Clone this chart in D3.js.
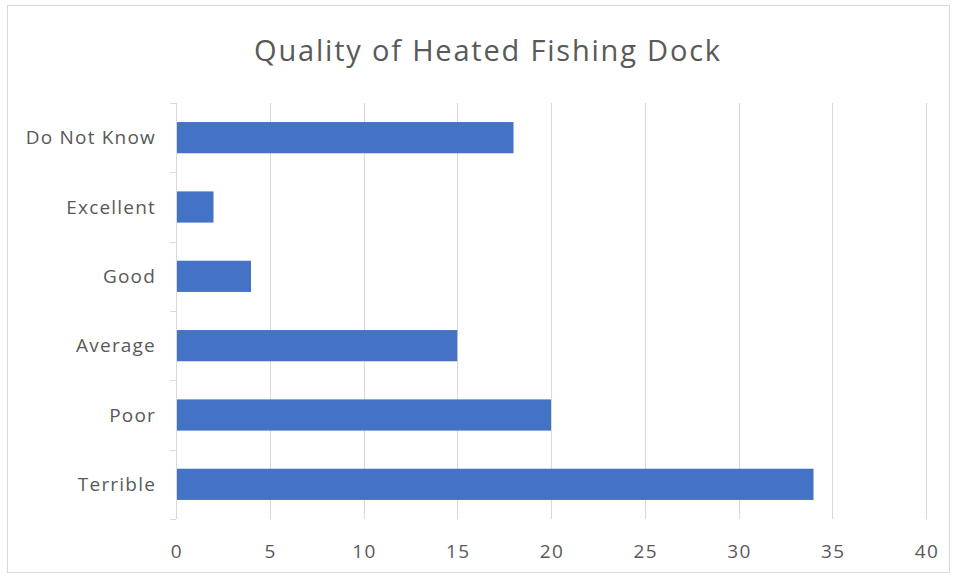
<!DOCTYPE html>
<html>
<head>
    <meta charset="utf-8">
    <title>Quality of Heated Fishing Dock</title>
    <script type="text/javascript" src="https://cdn.jsdelivr.net/npm/d3@7"></script>
    <style>
        body { margin: 0; background: #fff; }
        text { font-family: "Open Sans", "Noto Sans", sans-serif; fill: #595959; }
    </style>
</head>
<body>
<script type="text/javascript">
    var categories = ["Do Not Know", "Excellent", "Good", "Average", "Poor", "Terrible"],
        counts = [18, 2, 4, 15, 20, 34],
        xTicks = [0, 5, 10, 15, 20, 25, 30, 35, 40];

    var w = 956, h = 577,
        margin = {top: 103, right: 30, bottom: 58, left: 176};

    var svg = d3.select("body").append("svg")
        .attr("width", w)
        .attr("height", h);

    // chart frame
    svg.append("rect")
        .attr("x", 7.5).attr("y", 5.5)
        .attr("width", 942).attr("height", 567)
        .style("fill", "#fff")
        .style("stroke", "#d9d9d9");

    svg.append("text")
        .attr("x", 488).attr("y", 61)
        .attr("text-anchor", "middle")
        .style("font-size", "29px")
        .style("letter-spacing", "1.8px")
        .text("Quality of Heated Fishing Dock");

    var x = d3.scaleLinear()
        .domain([0, 40])
        .range([margin.left, w - margin.right]);

    var y = d3.scaleBand()
        .domain(categories)
        .range([margin.top, h - margin.bottom])
        .paddingInner(0.55)
        .paddingOuter(0.275);

    // vertical gridlines
    svg.selectAll("line.grid")
        .data(xTicks.slice(1))
        .enter().append("line")
        .attr("class", "grid")
        .attr("x1", function(d) { return Math.round(x(d)) + 0.5; })
        .attr("x2", function(d) { return Math.round(x(d)) + 0.5; })
        .attr("y1", margin.top)
        .attr("y2", h - margin.bottom)
        .style("stroke", "#d9d9d9");

    svg.selectAll("rect.bar")
        .data(categories)
        .enter().append("rect")
        .attr("class", "bar")
        .attr("x", x(0))
        .attr("y", function(d) { return y(d); })
        .attr("width", function(d, i) { return x(counts[i]) - x(0); })
        .attr("height", y.bandwidth())
        .style("fill", "#4472c4");

    // category axis: line + ticks at band boundaries
    var step = y.step();
    var yAxis = svg.append("g");
    yAxis.append("line")
        .attr("x1", x(0) + 0.5).attr("x2", x(0) + 0.5)
        .attr("y1", margin.top).attr("y2", h - margin.bottom)
        .style("stroke", "#d9d9d9");
    yAxis.selectAll("line.tick")
        .data(d3.range(categories.length + 1))
        .enter().append("line")
        .attr("class", "tick")
        .attr("x1", x(0) - 6).attr("x2", x(0))
        .attr("y1", function(i) { return Math.round(margin.top + i * step) + 0.5; })
        .attr("y2", function(i) { return Math.round(margin.top + i * step) + 0.5; })
        .style("stroke", "#d9d9d9");
    yAxis.selectAll("text")
        .data(categories)
        .enter().append("text")
        .attr("x", 156)
        .attr("y", function(d) { return y(d) + y.bandwidth() / 2; })
        .attr("dy", "0.35em")
        .attr("text-anchor", "end")
        .style("font-size", "19px")
        .style("letter-spacing", "1.2px")
        .text(function(d) { return d; });

    svg.selectAll("text.xtick")
        .data(xTicks)
        .enter().append("text")
        .attr("class", "xtick")
        .attr("x", function(d) { return x(d) + 1; })
        .attr("y", 558)
        .attr("text-anchor", "middle")
        .style("font-size", "19px")
        .style("letter-spacing", "1.5px")
        .text(function(d) { return d; });
</script>
</body>
</html>
